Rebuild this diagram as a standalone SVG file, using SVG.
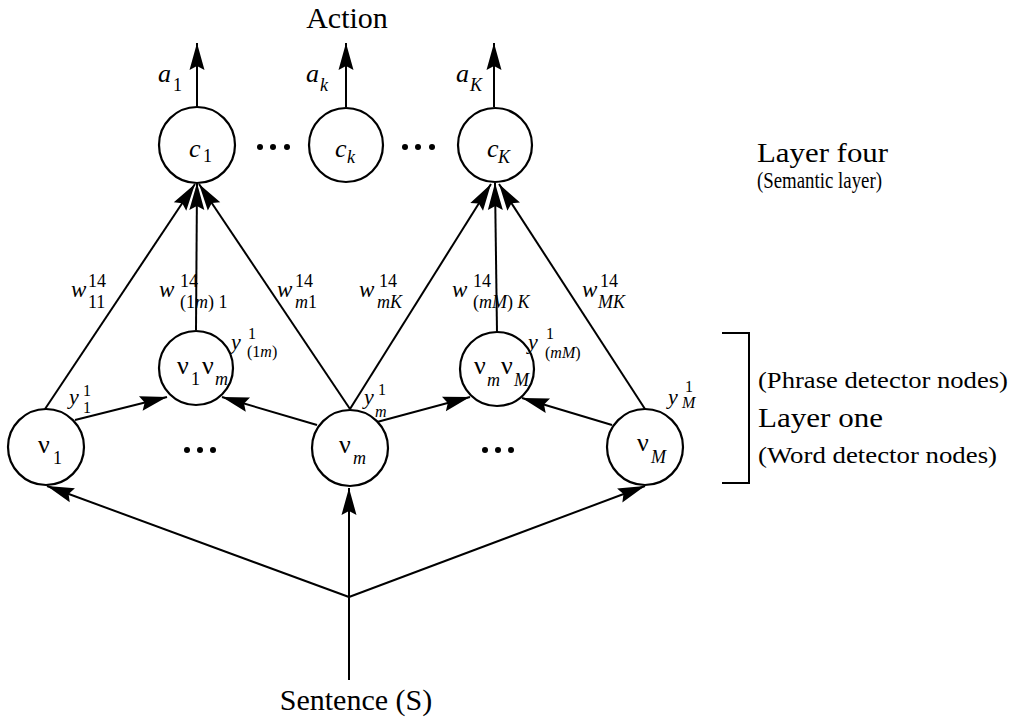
<svg xmlns="http://www.w3.org/2000/svg" width="1014" height="719" viewBox="0 0 1014 719">
  <style>
    .node { fill: #fff; stroke: #000; stroke-width: 2.2; }
    .edge { fill: none; stroke: #000; stroke-width: 2; }
    text { font-family: "Liberation Serif", "Times New Roman", serif; fill: #000; }
    .it { font-style: italic; }
    .big { font-size: 30px; }
    .lay { font-size: 28px; }
    .par { font-size: 23px; }
    .nl { font-size: 26px; }
    .ns { font-size: 18px; }
    .wl { font-size: 23px; }
    .ws { font-size: 18px; }
    .yl { font-size: 22px; }
    .ys { font-size: 16px; }
    .dot { fill: #000; }
  </style>
  <defs>
    <marker id="head" markerUnits="userSpaceOnUse" markerWidth="32" markerHeight="20" refX="28" refY="8" orient="auto" viewBox="0 0 32 20">
      <path d="M28,8 L1,0.5 L5,8 L1,15.5 Z" fill="#000"/>
    </marker>
  </defs>

  <rect width="1014" height="719" fill="#fff"/>

  <!-- connectors -->
  <g id="connectors">
    <!-- action outputs -->
    <line class="edge" x1="197" y1="107" x2="197" y2="43" marker-end="url(#head)"/>
    <line class="edge" x1="346" y1="107" x2="346" y2="43" marker-end="url(#head)"/>
    <line class="edge" x1="494" y1="107" x2="494" y2="43" marker-end="url(#head)"/>
    <!-- weights into c1 -->
    <line class="edge" x1="45" y1="409" x2="195" y2="184" marker-end="url(#head)"/>
    <line class="edge" x1="196" y1="330" x2="197" y2="183" marker-end="url(#head)"/>
    <line class="edge" x1="350" y1="409" x2="199" y2="184" marker-end="url(#head)"/>
    <!-- weights into cK -->
    <line class="edge" x1="350" y1="409" x2="491" y2="184" marker-end="url(#head)"/>
    <line class="edge" x1="497" y1="332" x2="495" y2="183" marker-end="url(#head)"/>
    <line class="edge" x1="645" y1="409" x2="499" y2="184" marker-end="url(#head)"/>
    <!-- word nodes into phrase nodes -->
    <line class="edge" x1="75" y1="420" x2="167" y2="397" marker-end="url(#head)"/>
    <line class="edge" x1="317" y1="425" x2="222" y2="397" marker-end="url(#head)"/>
    <line class="edge" x1="377" y1="422" x2="470" y2="397" marker-end="url(#head)"/>
    <line class="edge" x1="612" y1="425" x2="522" y2="398" marker-end="url(#head)"/>
    <!-- sentence input -->
    <line class="edge" x1="349" y1="680" x2="349" y2="488" marker-end="url(#head)"/>
    <line class="edge" x1="349" y1="597" x2="47" y2="486" marker-end="url(#head)"/>
    <line class="edge" x1="349" y1="597" x2="645" y2="486" marker-end="url(#head)"/>
    <!-- layer one bracket -->
    <polyline class="edge" points="722,333 749,333 749,483 722,483"/>
  </g>

  <!-- semantic layer -->
  <g id="c1">
    <circle class="node" cx="197" cy="145" r="38"/>
    <text class="it nl" x="189" y="157">c</text>
    <text class="ns" x="203" y="162">1</text>
  </g>
  <g id="ck">
    <circle class="node" cx="346" cy="145" r="37"/>
    <text class="it nl" x="335" y="157">c</text>
    <text class="it ns" x="347" y="163">k</text>
  </g>
  <g id="cK">
    <circle class="node" cx="495" cy="145" r="37"/>
    <text class="it nl" x="487" y="157">c</text>
    <text class="it ns" x="498" y="163">K</text>
  </g>

  <!-- phrase detector nodes -->
  <g id="v1vm">
    <circle class="node" cx="196" cy="368" r="37"/>
    <text class="nl" x="177" y="374">ν</text>
    <text class="ns" x="191" y="385">1</text>
    <text class="nl" x="202" y="374">ν</text>
    <text class="it ns" x="215" y="385">m</text>
  </g>
  <g id="vmvM">
    <circle class="node" cx="497" cy="369" r="37"/>
    <text class="nl" x="474" y="374">ν</text>
    <text class="it ns" x="487" y="386">m</text>
    <text class="nl" x="501" y="374">ν</text>
    <text class="it ns" x="514" y="386">M</text>
  </g>

  <!-- word detector nodes -->
  <g id="v1">
    <circle class="node" cx="46" cy="447" r="38"/>
    <text class="nl" x="38" y="453">ν</text>
    <text class="ns" x="53" y="464">1</text>
  </g>
  <g id="vm">
    <circle class="node" cx="350" cy="448" r="38"/>
    <text class="nl" x="339" y="453">ν</text>
    <text class="it ns" x="353" y="464">m</text>
  </g>
  <g id="vM">
    <circle class="node" cx="645" cy="447" r="38"/>
    <text class="nl" x="637" y="451">ν</text>
    <text class="it ns" x="651" y="463">M</text>
  </g>

  <!-- ellipses -->
  <g id="ellipses">
    <circle class="dot" cx="260" cy="147" r="3"/>
    <circle class="dot" cx="273" cy="147" r="3"/>
    <circle class="dot" cx="287" cy="147" r="3"/>
    <circle class="dot" cx="405" cy="147" r="3"/>
    <circle class="dot" cx="418" cy="147" r="3"/>
    <circle class="dot" cx="432" cy="147" r="3"/>
    <circle class="dot" cx="187" cy="450" r="3"/>
    <circle class="dot" cx="200" cy="450" r="3"/>
    <circle class="dot" cx="213" cy="450" r="3"/>
    <circle class="dot" cx="485" cy="450" r="3"/>
    <circle class="dot" cx="498" cy="450" r="3"/>
    <circle class="dot" cx="511" cy="450" r="3"/>
  </g>

  <!-- output labels -->
  <g id="outputs">
    <text class="big" x="347" y="28" text-anchor="middle">Action</text>
    <text class="it nl" x="158" y="82">a</text>
    <text class="ns" x="173" y="91">1</text>
    <text class="it nl" x="306" y="82">a</text>
    <text class="it ns" x="320" y="91">k</text>
    <text class="it nl" x="456" y="82">a</text>
    <text class="it ns" x="470" y="91">K</text>
  </g>

  <!-- weight labels -->
  <g id="weights">
    <text class="it wl" x="71" y="297">w</text>
    <text class="ws" x="88" y="287">14</text>
    <text class="ws" x="88" y="308">11</text>

    <text class="it wl" x="159" y="297">w</text>
    <text class="ws" x="180" y="287">14</text>
    <text class="ws" x="180" y="308">(1<tspan class="it">m</tspan>) 1</text>

    <text class="it wl" x="277" y="297">w</text>
    <text class="ws" x="295" y="287">14</text>
    <text class="ws" x="295" y="308"><tspan class="it">m</tspan>1</text>

    <text class="it wl" x="359" y="297">w</text>
    <text class="ws" x="379" y="287">14</text>
    <text class="it ws" x="377" y="308">mK</text>

    <text class="it wl" x="452" y="297">w</text>
    <text class="ws" x="473" y="287">14</text>
    <text class="ws" x="473" y="308">(<tspan class="it">mM</tspan>) <tspan class="it">K</tspan></text>

    <text class="it wl" x="582" y="297">w</text>
    <text class="ws" x="600" y="287">14</text>
    <text class="it ws" x="598" y="308">MK</text>
  </g>

  <!-- activation labels -->
  <g id="activations">
    <text class="it yl" x="231" y="349">y</text>
    <text class="ys" x="248" y="339">1</text>
    <text class="ys" x="247" y="357">(1<tspan class="it">m</tspan>)</text>

    <text class="it yl" x="528" y="349">y</text>
    <text class="ys" x="546" y="339">1</text>
    <text class="ys" x="545" y="358">(<tspan class="it">mM</tspan>)</text>

    <text class="it yl" x="69" y="404">y</text>
    <text class="ys" x="83" y="396">1</text>
    <text class="ys" x="83" y="413">1</text>

    <text class="it yl" x="364" y="404">y</text>
    <text class="ys" x="378" y="395">1</text>
    <text class="it ys" x="375" y="417">m</text>

    <text class="it yl" x="668" y="404">y</text>
    <text class="ys" x="685" y="392">1</text>
    <text class="it ys" x="682" y="408">M</text>
  </g>

  <!-- layer captions -->
  <g id="captions">
    <text class="lay" x="757" y="162" textLength="131" lengthAdjust="spacingAndGlyphs">Layer four</text>
    <text class="par" x="757" y="188" textLength="125" lengthAdjust="spacingAndGlyphs">(Semantic layer)</text>
    <text class="par" x="758" y="388" textLength="250" lengthAdjust="spacingAndGlyphs">(Phrase detector nodes)</text>
    <text class="lay" x="758" y="427" textLength="125" lengthAdjust="spacingAndGlyphs">Layer one</text>
    <text class="par" x="758" y="463" textLength="239" lengthAdjust="spacingAndGlyphs">(Word detector nodes)</text>
    <text class="big" x="356" y="710" text-anchor="middle">Sentence (S)</text>
  </g>
</svg>
